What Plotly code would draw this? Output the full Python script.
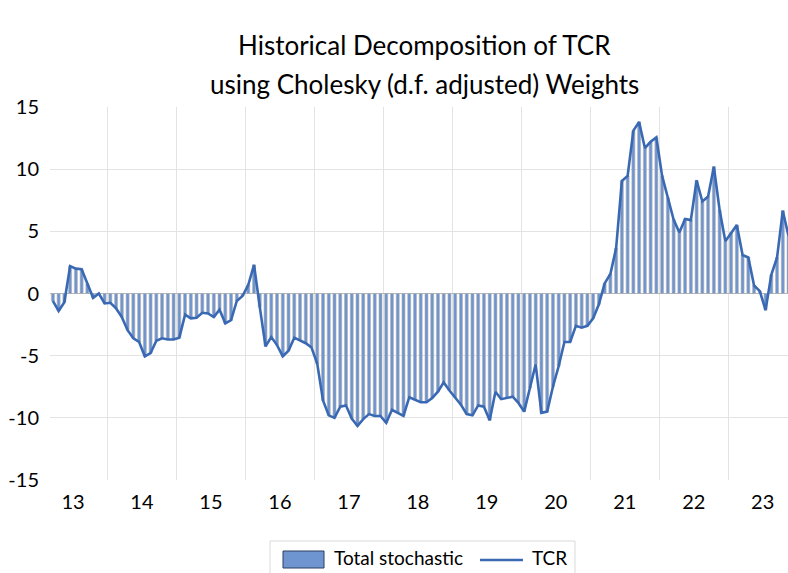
import plotly.graph_objects as go
import pandas as pd

# ---------------- data ----------------
start_month = "2013-03"
tcr = [
    -0.6, -1.4, -0.7, 2.2, 2.0, 1.95, 0.8, -0.35, 0.0, -0.8,
    -0.75, -1.2, -1.9, -2.95, -3.6, -3.9, -5.05, -4.8, -3.8, -3.6,
    -3.7, -3.7, -3.55, -1.7, -2.0, -1.95, -1.55, -1.6, -1.9, -1.3,
    -2.4, -2.15, -0.6, -0.2, 0.7, 2.3, -1.1, -4.25, -3.5, -4.15,
    -5.05, -4.6, -3.55, -3.8, -4.0, -4.35, -5.65, -8.6, -9.8, -10.0,
    -9.1, -9.0, -10.05, -10.65, -10.1, -9.7, -9.85, -9.85, -10.4, -9.35,
    -9.6, -9.85, -8.35, -8.55, -8.75, -8.75, -8.4, -7.9, -7.15, -7.8,
    -8.35, -8.95, -9.7, -9.8, -9.0, -9.1, -10.2, -7.9, -8.5, -8.4,
    -8.3, -8.8, -9.5, -7.6, -5.7, -9.6, -9.5, -7.5, -5.85, -3.9,
    -3.9, -2.6, -2.75, -2.6, -2.0, -0.87, 0.81, 1.57, 3.65, 9.05,
    9.46, 13.1, 13.8, 11.7, 12.2, 12.55, 9.46, 7.7, 5.95, 4.9,
    6.0, 5.9, 9.1, 7.4, 7.8, 10.2, 6.74, 4.2, 4.9, 5.5,
    3.1, 2.9, 0.64, 0.19, -1.34, 1.5, 2.9, 6.66, 4.6,
]
total_stochastic = [
    -0.6, -1.4, -0.7, 2.2, 2.0, 1.95, 0.8, -0.35, 0.0, -0.8,
    -0.75, -1.2, -1.9, -2.95, -3.6, -3.9, -5.05, -4.8, -3.8, -3.6,
    -3.7, -3.7, -3.55, -1.7, -2.0, -1.95, -1.55, -1.6, -1.9, -1.3,
    -2.4, -2.15, -0.6, -0.2, 0.7, 2.3, -1.1, -4.25, -3.5, -4.15,
    -5.05, -4.6, -3.55, -3.8, -4.0, -4.35, -5.65, -8.6, -9.8, -10.0,
    -9.1, -9.0, -10.05, -10.65, -10.1, -9.7, -9.85, -9.85, -10.4, -9.35,
    -9.6, -9.85, -8.35, -8.55, -8.75, -8.75, -8.4, -7.9, -7.15, -7.8,
    -8.35, -8.95, -9.7, -9.8, -9.0, -9.1, -10.2, -7.9, -8.5, -8.4,
    -8.3, -8.8, -9.5, -7.6, -5.7, -9.6, -9.5, -7.5, -5.85, -3.9,
    -3.9, -2.6, -2.75, -2.6, -2.0, -0.87, 0.81, 1.57, 3.65, 9.05,
    9.46, 13.1, 13.8, 11.7, 12.2, 12.55, 9.46, 7.7, 5.95, 4.9,
    6.0, 5.9, 9.1, 7.4, 7.8, 10.2, 6.74, 4.2, 4.9, 5.5,
    3.1, 2.9, 0.64, 0.19, -1.34, 1.5, 2.9, 6.66, 4.6,
]
years = list(range(2013, 2024))
year_labels = ["13", "14", "15", "16", "17", "18", "19", "20", "21", "22", "23"]
y_ticks = [-15, -10, -5, 0, 5, 10, 15]
y_tick_labels = ["-15", "-10", "-5", "0", "5", "10", "15"]
title_lines = ["Historical Decomposition of TCR",
               "using Cholesky (d.f. adjusted) Weights"]
legend_names = ["Total stochastic", "TCR"]

# month positions on a continuous year scale (month centres)
months = pd.period_range(start_month, periods=len(tcr), freq="M")
x = [p.year + (p.month - 0.5) / 12 for p in months]

FONT = "Lato, Calibri, Arial, sans-serif"
BAR_COL = "#6F95D0"
LINE_COL = "#3A69B4"

fig = go.Figure()
fig.add_trace(go.Bar(
    x=x, y=total_stochastic, name=legend_names[0],
    width=0.52 / 12,
    marker=dict(color=BAR_COL, line=dict(color="#B0B0B0", width=0.6)),
    showlegend=False, hoverinfo="skip",
))
fig.add_trace(go.Scatter(
    x=x, y=tcr, name=legend_names[1], mode="lines",
    line=dict(color=LINE_COL, width=2.6),
    showlegend=False, hoverinfo="skip",
))

# geometry (page body margin removed below, so figure fills the window)
W, H = 788, 573
L = 50            # plot left edge at x=50
T = 107           # plot top at y=107
B = H - 480       # plot bottom at y=480
R = 0
pw, ph = W - L - R, H - T - B
px_per_year = 68.97
x0 = 2013 + 2 / 12
x1 = x0 + pw / px_per_year

def px_x(p):
    return (p - L) / pw

def px_y(p):
    return (H - B - p) / ph

fig.update_layout(
    width=W, height=H,
    margin=dict(l=L, r=R, t=T, b=B, autoexpand=False),
    paper_bgcolor="white", plot_bgcolor="white",
    font=dict(family=FONT, color="#000000", size=19),
    bargap=0,
    hovermode=False,
    xaxis=dict(
        range=[x0, x1], automargin=False, fixedrange=True,
        tickvals=[y + 0.5 for y in years], ticktext=year_labels,
        showgrid=False, zeroline=False, showline=False, ticks="",
        ticklabelstandoff=8,
        tickfont=dict(size=20, family=FONT, color="#000"),
        minor=dict(tickvals=years[1:], showgrid=True,
                   gridcolor="#E3E3E3", gridwidth=1, ticks=""),
    ),
    yaxis=dict(
        range=[-15, 15], automargin=False, fixedrange=True,
        tickvals=y_ticks, ticktext=y_tick_labels,
        showgrid=False, showline=False, ticks="",
        zeroline=True, zerolinecolor="#B8B8B8", zerolinewidth=1.5,
        ticklabelstandoff=10,
        tickfont=dict(size=20, family=FONT, color="#000"),
        minor=dict(tickvals=[-10, -5, 5, 10], showgrid=True,
                   gridcolor="#E3E3E3", gridwidth=1, ticks=""),
    ),
)

# title as two lines
for txt, py in zip(title_lines, [45, 84]):
    fig.add_annotation(
        text=txt, xref="paper", yref="paper",
        x=px_x(424.5), y=px_y(py), xanchor="center", yanchor="middle",
        showarrow=False, font=dict(size=26, family=FONT, color="#000"),
    )

# custom legend (below plot)
fig.add_shape(type="rect", xref="paper", yref="paper",
              x0=px_x(270), x1=px_x(575), y0=px_y(541), y1=px_y(585),
              line=dict(color="#D9D9D9", width=1), fillcolor="white", layer="above")
fig.add_shape(type="rect", xref="paper", yref="paper",
              x0=px_x(283), x1=px_x(324), y0=px_y(551), y1=px_y(568),
              line=dict(color="#2B3F5E", width=1), fillcolor=BAR_COL, layer="above")
fig.add_annotation(text=legend_names[0], xref="paper", yref="paper",
                   x=px_x(332), y=px_y(557), xanchor="left", yanchor="middle",
                   showarrow=False, font=dict(size=19, family=FONT, color="#000"))
fig.add_shape(type="line", xref="paper", yref="paper",
              x0=px_x(480), x1=px_x(523), y0=px_y(560), y1=px_y(560),
              line=dict(color=LINE_COL, width=2.6), layer="above")
fig.add_annotation(text=legend_names[1], xref="paper", yref="paper",
                   x=px_x(530), y=px_y(557), xanchor="left", yanchor="middle",
                   showarrow=False, font=dict(size=19, family=FONT, color="#000"))

fig.write_html(
    "out.html",
    config={"displayModeBar": False, "staticPlot": True},
    post_script="document.body.style.margin='0';document.body.style.overflow='hidden';",
)
